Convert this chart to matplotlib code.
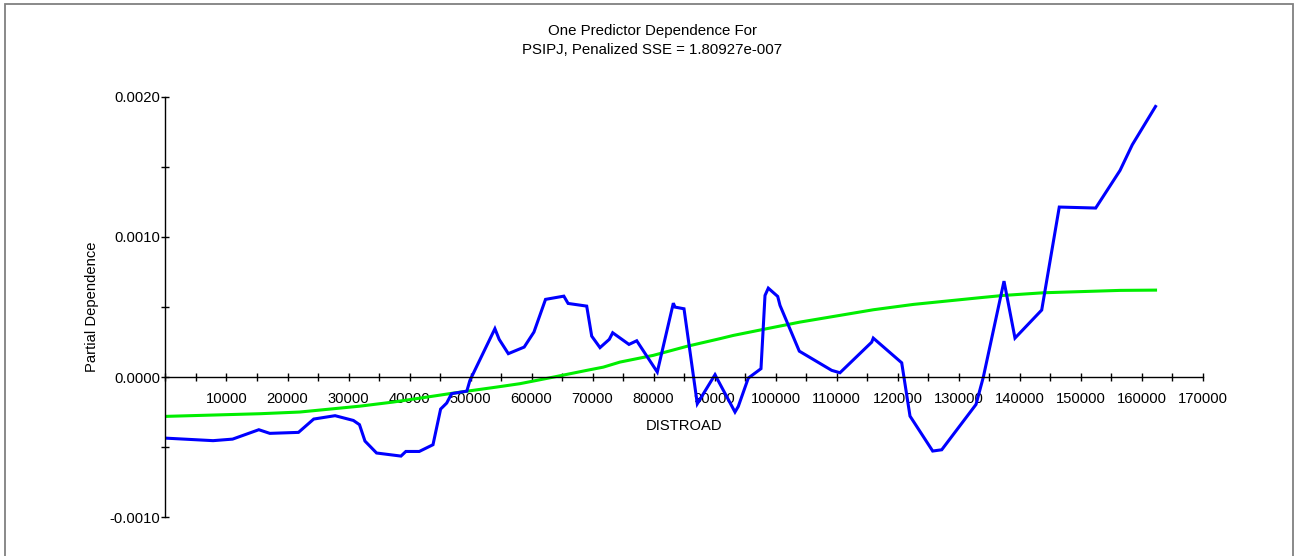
import matplotlib
matplotlib.use("Agg")
import matplotlib.pyplot as plt
from matplotlib.patches import Rectangle
from matplotlib.ticker import MultipleLocator, FixedLocator, FuncFormatter

plt.rcParams['font.family'] = ['Liberation Sans', 'DejaVu Sans']

# Partial dependence of PSIPJ on DISTROAD (raw and smoothed)
distroad_raw = [0, 7800, 11000, 15300, 17100, 21800, 24300, 27800, 30800, 31800,
                32700, 34600, 38600, 39400, 41600, 43850, 45100, 46100, 46900, 49400,
                49900, 54000, 54700, 56200, 58800, 60400, 62300, 65300, 66000, 69050,
                69870, 71230, 72750, 73310, 75980, 77250, 80620, 83250, 83520, 85000,
                87180, 90080, 93360, 93900, 95540, 97620, 98280, 98820, 100360, 100740,
                103900, 109210, 110570, 115770, 116030, 120690, 122050, 125770, 127250, 132870,
                134070, 137460, 139260, 143640, 146520, 152490, 156480, 158490, 162300]
pd_raw = [-0.000435, -0.000453, -0.000442, -0.000375, -0.000401, -0.000394, -0.000299, -0.000275, -0.000309, -0.000339,
          -0.000456, -0.000541, -0.000563, -0.000530, -0.000530, -0.000482, -0.000228, -0.000185, -0.000118, -0.000100,
          -0.000024, 0.000345, 0.000269, 0.000167, 0.000214, 0.000321, 0.000554, 0.000577, 0.000525, 0.000506,
          0.000292, 0.000210, 0.000269, 0.000316, 0.000233, 0.000259, 0.000036, 0.000527, 0.000499, 0.000487,
          -0.000190, 0.000017, -0.000249, -0.000209, -0.000007, 0.000060, 0.000582, 0.000634, 0.000575, 0.000511,
          0.000185, 0.000048, 0.000031, 0.000249, 0.000278, 0.000102, -0.000278, -0.000527, -0.000518, -0.000195,
          0.000000, 0.000684, 0.000278, 0.000478, 0.001212, 0.001205, 0.001473, 0.001656, 0.001929]

distroad_smooth = [0, 15500, 22000, 31900, 37300, 41700, 47200, 54300, 58100, 63600,
                   69050, 71770, 74500, 79970, 85440, 90900, 93080, 98560, 104000, 110570,
                   116030, 122590, 133530, 137340, 143900, 156480, 162300]
pd_smooth = [-0.000280, -0.000261, -0.000249, -0.000207, -0.000178, -0.000150, -0.000114, -0.000071, -0.000047, 0.000000,
             0.000048, 0.000071, 0.000107, 0.000155, 0.000219, 0.000274, 0.000297, 0.000345, 0.000392, 0.000440,
             0.000480, 0.000518, 0.000566, 0.000582, 0.000601, 0.000618, 0.000620]

x_major = list(range(10000, 170001, 10000))
y_major = [-0.0010, 0.0000, 0.0010, 0.0020]

W, H, DPI = 1304, 556, 100
fig = plt.figure(figsize=(W / DPI, H / DPI), dpi=DPI)
fig.patch.set_facecolor('white')

# plot frame around the whole chart
fig.add_artist(Rectangle((5 / W, -0.05), 1288 / W, 1.05 - 3.5 / H,
                         transform=fig.transFigure, fill=False,
                         edgecolor='#808080', linewidth=1.3))

left, right, top, bottom = 165.5, 1202.5, 96.5, 517.4
ax = fig.add_axes([left / W, 1 - bottom / H, (right - left) / W, (bottom - top) / H])

ax.plot(distroad_smooth, pd_smooth, color='#00ee00', linewidth=2.2, solid_joinstyle='round')
ax.plot(distroad_raw, pd_raw, color='#0000ff', linewidth=2.2, solid_joinstyle='miter')

ax.set_xlim(0, 170000)
ax.set_ylim(-0.001, 0.002)

for s in ('top', 'right'):
    ax.spines[s].set_visible(False)
ax.spines['bottom'].set_position(('data', 0))
ax.spines['left'].set_linewidth(1.0)
ax.spines['bottom'].set_linewidth(1.0)

ax.xaxis.set_major_locator(FixedLocator(x_major))
ax.xaxis.set_minor_locator(MultipleLocator(5000))
ax.yaxis.set_major_locator(FixedLocator(y_major))
ax.yaxis.set_minor_locator(MultipleLocator(0.0005))
ax.xaxis.set_major_formatter(FuncFormatter(lambda v, p: f"{v:.0f}"))
ax.yaxis.set_major_formatter(FuncFormatter(lambda v, p: f"{v:.4f}"))

ax.tick_params(axis='both', which='both', direction='inout', length=6, width=1.0,
               color='black', labelsize=10.6)
ax.tick_params(axis='x', which='major', pad=7.8)
ax.tick_params(axis='y', which='major', pad=1)

ax.set_xlabel('DISTROAD', fontsize=10.6)
ax.xaxis.set_label_coords(0.5, 1 - (425.5 - top) / (bottom - top), transform=ax.transAxes)
ax.xaxis.label.set_va('center')
ax.set_ylabel('Partial Dependence', fontsize=10.6)
ax.yaxis.set_label_coords((92 - left) / (right - left), 0.5)
ax.yaxis.label.set_va('center')

fig.text(652 / W, 1 - 40.5 / H, 'One Predictor Dependence For\nPSIPJ, Penalized SSE = 1.80927e-007',
         ha='center', va='center', fontsize=10.8, linespacing=1.4)

fig.savefig('out.png', dpi=DPI, facecolor='white')
